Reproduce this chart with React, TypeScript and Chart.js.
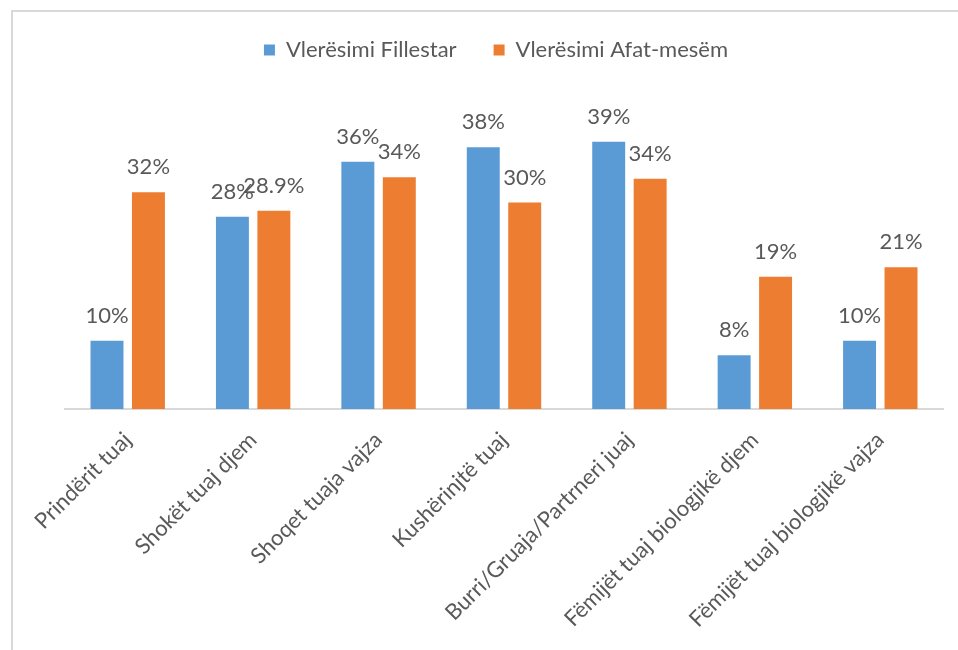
import React, { useEffect, useRef } from "react";
import { Chart, registerables } from "chart.js";

Chart.register(...registerables);

const categories = [
  "Prindërit tuaj",
  "Shokët tuaj djem",
  "Shoqet tuaja vajza",
  "Kushërinjtë tuaj",
  "Burri/Gruaja/Partrneri juaj",
  "Fëmijët tuaj biologjikë djem",
  "Fëmijët tuaj biologjikë vajza",
];
const seriesNames = ["Vlerësimi Fillestar", "Vlerësimi Afat-mesëm"];
const initialValues = [10, 28.2, 36.3, 38.4, 39.2, 7.9, 10];
const midTermValues = [31.8, 29.1, 34, 30.3, 33.8, 19.4, 20.8];
const initialLabels = ["10%", "28%", "36%", "38%", "39%", "8%", "10%"];
const midTermLabels = ["32%", "28.9%", "34%", "30%", "34%", "19%", "21%"];

const FONT = "Lato, 'Open Sans', sans-serif";
const TEXT = "#595959";

const valueLabels = {
  id: "valueLabels",
  afterDatasetsDraw(chart: any) {
    const ctx = chart.ctx;
    const all = [initialLabels, midTermLabels];
    ctx.save();
    ctx.font = `22px ${FONT}`;
    ctx.fillStyle = TEXT;
    ctx.textAlign = "center";
    ctx.textBaseline = "alphabetic";
    chart.data.datasets.forEach((_: any, di: number) => {
      const meta = chart.getDatasetMeta(di);
      meta.data.forEach((el: any, i: number) => {
        ctx.fillText(all[di][i], el.x, el.y - 18);
      });
    });
    ctx.restore();
  },
};

export default function App() {
  const ref = useRef<HTMLCanvasElement | null>(null);
  useEffect(() => {
    if (!ref.current) return;
    const chart = new Chart(ref.current, {
      type: "bar",
      data: {
        labels: categories,
        datasets: [
          {
            label: seriesNames[0],
            data: initialValues,
            backgroundColor: "#5B9BD5",
            categoryPercentage: 0.661,
            barPercentage: 0.795,
          },
          {
            label: seriesNames[1],
            data: midTermValues,
            backgroundColor: "#ED7D31",
            categoryPercentage: 0.661,
            barPercentage: 0.795,
          },
        ],
      },
      options: {
        responsive: false,
        animation: false,
        devicePixelRatio: 1,
        layout: { padding: { left: 49, right: 15, top: 2, bottom: 0 } },
        plugins: {
          tooltip: { enabled: false },
          legend: {
            display: true,
            position: "top",
            align: "center",
            labels: {
              boxWidth: 11,
              boxHeight: 11,
              padding: 37,
              color: TEXT,
              font: { family: FONT, size: 22 },
            },
          },
        },
        scales: {
          x: {
            grid: { display: false, drawTicks: false },
            border: { display: true, color: "#d9d9d9", width: 2 },
            ticks: {
              minRotation: 45,
              maxRotation: 45,
              autoSkip: false,
              padding: 18,
              color: TEXT,
              font: { family: FONT, size: 22 },
            },
            afterFit: (scale: any) => {
              scale.height = 241;
            },
          },
          y: {
            display: true,
            min: 0,
            max: 49.6,
            grid: { display: false, drawTicks: false },
            border: { display: false },
            ticks: { display: false },
            afterFit: (scale: any) => {
              scale.width = 16;
            },
          },
        },
      },
      plugins: [valueLabels],
    });
    return () => chart.destroy();
  }, []);

  return (
    <div
      style={{
        position: "absolute",
        left: 0,
        top: 0,
        width: 958,
        height: 650,
        overflow: "hidden",
        background: "#fff",
      }}
    >
      <div
        style={{
          position: "absolute",
          left: 11,
          top: 10,
          width: 1000,
          height: 700,
          border: "2px solid #d9d9d9",
          boxSizing: "border-box",
        }}
      />
      <canvas
        ref={ref}
        width={958}
        height={650}
        style={{ position: "absolute", left: 0, top: 0, width: 958, height: 650 }}
      />
    </div>
  );
}
